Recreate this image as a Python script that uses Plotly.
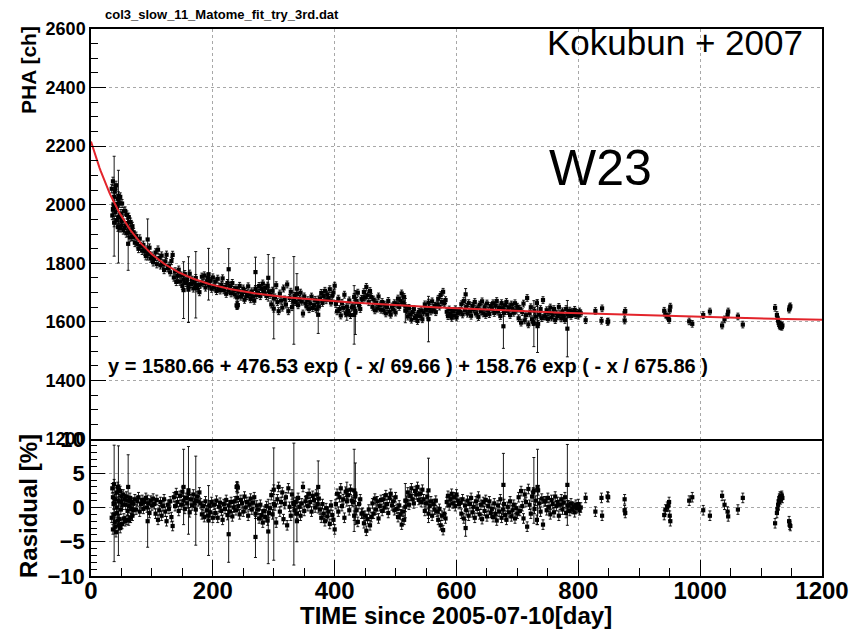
import numpy as np
import plotly.graph_objects as go

# ---- fit result: y = p0 + a1*exp(-x/t1) + a2*exp(-x/t2) ----
P0, A1, T1, A2, T2 = 1580.66, 476.53, 69.66, 158.76, 675.86

# ---- measurements: day since 2005-07-10 and residual (fit - data)/fit [%] ----
days = [
    34, 35, 36, 37, 38, 39, 40, 41, 42, 43, 44, 45, 46, 47, 48, 49, 50, 51, 52, 53,
    36, 38, 40, 42, 44, 46, 48, 50,
    54, 55, 56, 57, 58, 59, 60, 61, 62, 63, 64, 65, 66, 67, 68, 69, 70,
    72, 74, 76, 78, 80, 82, 84, 86, 88, 90, 92, 94, 96, 98, 100, 102,
    104, 106, 108, 110, 112, 114, 116, 118, 120, 122, 124, 126, 128, 130, 132, 134,
    136, 138, 140, 142, 144, 146, 148, 150, 152, 154, 156, 158, 160, 162, 164, 166, 168, 170, 172, 174, 176, 178,
    180, 182, 184, 186, 188, 190, 192, 194, 196, 198, 200,
    202, 204, 206, 208, 210, 212, 214, 216, 218, 220, 222, 224, 226, 228, 230, 232, 234,
    236, 238, 240, 242, 244, 246, 248, 250, 252, 254, 256, 258, 260, 262, 264, 266, 268, 270, 272,
    239, 240, 241,
    274, 276, 278, 280, 282, 284, 286, 288, 290, 292, 294,
    296, 298, 300, 302, 304, 306, 308, 310, 312, 314, 316, 318, 320, 322, 324, 326, 328, 330, 332, 334,
    336, 338, 340, 342, 344, 346, 348, 350, 352,
    354, 356, 358, 360, 362, 364, 366, 368, 370, 372, 374,
    376, 378, 380, 382, 384, 386, 388, 390, 392, 394, 396, 398, 400,
    402, 404, 406, 408, 410, 412, 414, 416, 418, 420, 422, 424, 426, 428,
    430, 432, 434, 436, 438, 440, 442, 444,
    446, 448, 450, 452, 454, 456, 458, 460,
    462, 464, 466, 468, 470, 472, 474, 476, 478,
    480, 482, 484, 486, 488, 490, 492, 494, 496, 498, 500,
    502, 504, 506, 508, 510, 512, 514, 516,
    518, 520, 522, 524, 526, 528, 530, 532, 534, 536, 538, 540, 542, 544,
    546, 548, 550, 552, 554, 556, 558, 560, 562, 564, 566,
    568, 570, 572, 574, 576, 578, 580, 582,
    584, 586, 588, 590, 592, 594, 596, 598, 600, 602, 604,
    606, 608, 610, 612, 614, 616, 618, 620, 622, 624, 626, 628, 630, 632, 634, 636, 638, 640, 642, 644,
    646, 648, 650, 652, 654, 656,
    658, 660, 662, 664, 666, 668, 670, 672, 674, 676, 678, 680, 682, 684, 686, 688, 690, 692, 694, 696, 698, 700,
    702, 704, 706, 708, 710, 712, 714, 716, 718, 720, 722, 724, 726, 728, 730, 732, 734, 736, 738, 740, 742, 744,
    746, 748, 750, 752, 754, 756, 758, 760, 762, 764, 766, 768, 770, 772, 774, 776, 778, 780, 782,
    784, 786, 788, 790, 792, 794, 796, 798, 800, 802, 804,
    812, 828, 838, 839, 848, 849, 876, 876, 877,
    941, 943, 946, 948, 949, 950, 951, 982, 987, 1005, 1016, 1036, 1040, 1045, 1046, 1062, 1070,
    1123, 1126, 1127, 1128, 1129, 1130, 1131, 1132, 1133, 1134, 1135, 1146, 1147, 1148,
]
resid = [
    -1.5, 2.8, -3.2, 0.5, 3.4, -2.1, 1.2, -3.6, 2.2, -0.8, 3.0, -2.6, 0.9, -1.7, 2.4, -0.3, 1.6, -2.4, 0.4, 1.9,
    1.5, -1.0, -2.8, 0.0, -1.9, 2.6, -3.0, 0.8,
    -1.6, 1.2, -2.0, 0.4, 1.6, -1.8, -0.5, 1.0, -1.9, 0.2, 1.4, -1.5, -0.2, 0.8, -1.2, 0.6, -0.4,
    1.2, -0.3, 0.9, 1.5, -0.6, 0.5, 1.1, -0.2, 0.8, 1.4, 0.0, 0.6, -0.8, 1.0, 0.3, 1.3,
    0.5, -0.9, 1.1, -1.8, -0.4, 0.8, -1.2, 0.2, 1.2, -0.6, -2.0, 0.4, -0.2, 0.9, -1.4, -2.7,
    1.5, 0.2, 2.1, 0.8, -0.5, 1.7, 0.4, 2.3, 1.0, -0.2, 1.4, 0.6, 2.0, -0.7, 1.2, 0.3, 1.9, 0.7, -0.3, 1.6, 0.9, 2.2,
    0.6, -1.0, 0.2, -1.4, 0.9, -0.4, -1.2, 0.3, -0.7, 0.8, -1.5,
    0.4, -0.8, 1.0, -1.5, 0.1, 0.7, -0.5, -1.8, 0.5, -0.2, 1.1, -1.1, 0.3, -0.6, 0.8, -1.3, 0.0,
    0.9, -0.4, 1.4, 0.2, -1.0, 1.1, 0.6, -0.6, 1.6, 0.0, 0.8, -1.2, 0.4, 1.3, -0.3, 0.7, 1.5, -0.9, 0.3,
    3.0, 3.1, 2.9,
    -0.3, -1.6, 0.4, -1.1, -2.2, -0.5, -1.4, 0.2, -1.9, -0.8, -0.1,
    1.8, -1.0, 2.6, 0.3, -2.2, 1.2, 3.0, -0.6, 0.8, 2.2, -1.7, 0.5, 1.5, -2.6, 2.8, 0.1, -1.2, 1.9, 0.7, -0.4,
    0.8, -0.9, 1.4, 0.1, -1.2, 0.6, 3.0, -0.5, 0.9,
    1.5, 0.2, 2.0, 0.8, -0.6, 1.7, 1.1, 0.0, 1.9, 0.5, 1.3,
    -0.3, -1.5, 0.5, -0.9, -2.0, -0.1, -1.3, -0.6, -2.4, 0.3, -1.1, -1.8, -3.2,
    0.5, 2.0, -0.6, 1.5, 2.8, 0.2, 1.2, -1.5, 2.3, 0.9, 1.8, -0.4, 2.6, 1.0,
    0.8, -1.2, 1.6, -0.4, -2.1, 0.5, 1.2, -0.9,
    -0.8, -2.3, -1.2, -3.4, -1.7, -0.3, -2.6, -1.4,
    0.6, -0.9, 1.3, -0.3, 0.9, -1.6, 0.2, 1.1, -0.5,
    1.2, 0.0, 1.8, 0.5, -0.8, 1.4, 2.0, 0.3, 0.9, -0.4, 1.5,
    -0.2, -1.4, 0.3, -1.0, -2.5, -0.6, -1.8, 0.1,
    1.0, 2.2, 0.4, 1.7, 2.8, 1.2, 0.6, 2.4, 1.9, 3.0, 1.1, 2.0, 0.8, 2.6,
    1.2, -0.5, 0.6, 1.6, -0.9, 0.2, 0.9, -1.2, 0.5, -0.3, 1.0,
    -0.6, -1.8, -0.2, -2.6, -1.2, -3.3, -0.9, -1.6,
    0.8, 1.7, 0.3, 1.2, 2.0, 0.6, 1.5, 0.2, 1.9, 1.0, 0.5,
    0.7, -0.9, 1.2, -1.6, 0.3, -0.4, 1.0, -1.2, 0.5, 1.4, -0.7, 0.1, -1.5, 0.9, -0.2, 1.6, -1.0, 0.4, -1.7, 0.8,
    -0.5, 1.1, -1.3, 0.2, 0.9, -0.8,
    -0.2, -1.4, 0.6, -0.9, -1.9, 0.3, -0.6, 1.2, -1.5, -0.3, 0.5, -1.1, -1.8, 0.1, -0.7, 0.9, -1.3, -0.4, 0.4, -1.6, -0.1, -0.9,
    1.5, -0.5, 2.4, 0.2, -1.6, 1.9, 0.8, -2.8, 2.7, 0.4, -0.9, 1.6, 2.2, -0.2, 1.0, -1.8, 2.5, 0.6, -0.6, 1.3, -2.5, 0.9,
    0.9, -0.4, 1.4, 0.1, -1.0, 1.1, 0.5, -0.7, 1.6, 0.2, 0.8, -1.2, 0.4, 1.2, -0.3, 0.7, 1.5, -0.8, 0.3,
    0.3, -0.5, 0.6, -0.2, 0.1, -0.7, 0.4, -0.1, 0.5, -0.4, 0.0,
    1.4, -0.6, 1.4, -1.2, 1.6, 1.5, 1.2, -0.4, -0.8,
    -1.1, -0.3, 0.1, 0.3, 0.8, -1.2, -2.0, 1.0, 1.5, -0.4, -1.2, 1.7, 0.4, -0.6, -1.3, -0.3, 1.4,
    -2.3, -0.8, -0.2, 0.4, 0.9, 1.3, 1.6, 1.2, 1.5, 1.7, 1.4, -2.0, -2.5, -2.7,
]
# typical statistical error of a single measurement [%]
ERR_TYPICAL = 0.7

# measurements with large errors: day, residual [%], error [%]
big_days = [38, 45, 61, 93, 152, 160, 172, 193, 226, 270, 291, 300, 333, 338,
            373, 420, 432, 434, 516, 554, 615, 677, 727, 733, 782]
big_resid = [0.6, 1.0, 3.0, -2.0, 3.0, 2.5, 1.0, -1.9, -3.9, -4.3, -3.5, 0.5, 0.5, -2.0,
             3.0, 2.5, 2.5, 2.0, 1.0, 2.5, -3.0, 3.3, 2.5, 3.0, 3.3]
big_err = [8.5, 8.0, 4.7, 3.8, 5.5, 6.4, 6.5, 5.1, 4.1, 3.0, 4.7, 8.2, 8.9, 3.0,
           3.8, 1.2, 6.0, 4.5, 2.5, 4.7, 1.2, 4.6, 4.8, 5.5, 5.9]


def model(d):
    d = np.asarray(d, dtype=float)
    return P0 + A1 * np.exp(-d / T1) + A2 * np.exp(-d / T2)


all_days = np.array(days + big_days, dtype=float)
all_res = np.array(resid + big_resid, dtype=float)
all_err = np.array([ERR_TYPICAL] * len(days) + big_err, dtype=float)

fit_at = model(all_days)
pha = fit_at * (1.0 - all_res / 100.0)
pha_err = fit_at * all_err / 100.0

xf = np.linspace(0, 1200, 601)
yf = model(xf)

# ---- page geometry ----
W, H = 867, 632
ML, MR, MT, MB = 91, 45, 29, 56
PW, PH = W - ML - MR, H - MT - MB
SPLIT = (H - MB - 439) / PH


def fx(px):
    return (px - ML) / PW


def fy(py):
    return (H - MB - py) / PH


FONT = "Liberation Sans, Arial, Helvetica, sans-serif"
GRID = "#a8a8a8"

marker = dict(symbol="square", size=4.2, color="black")

fig = go.Figure()
fig.add_trace(go.Scatter(
    x=all_days, y=pha, xaxis="x2", yaxis="y2", mode="markers", marker=marker,
    error_y=dict(type="data", array=pha_err, color="black", thickness=0.9, width=1.5),
    hoverinfo="skip"))
fig.add_trace(go.Scatter(
    x=xf, y=yf, xaxis="x2", yaxis="y2", mode="lines",
    line=dict(color="#e3242b", width=2), hoverinfo="skip"))
fig.add_trace(go.Scatter(
    x=all_days, y=all_res, xaxis="x", yaxis="y", mode="markers", marker=marker,
    error_y=dict(type="data", array=all_err, color="black", thickness=0.9, width=1.5),
    hoverinfo="skip"))

axis_common = dict(
    showline=True, linecolor="black", linewidth=1.5,
    showgrid=True, gridcolor=GRID, griddash="dot", gridwidth=1,
    zeroline=False, tickcolor="black", tickwidth=1.2,
)

fig.update_layout(
    width=W, height=H,
    margin=dict(l=ML, r=MR, t=MT, b=MB),
    paper_bgcolor="white", plot_bgcolor="white",
    showlegend=False,
    font=dict(family=FONT, color="black"),
    xaxis=dict(
        domain=[0, 1], anchor="y", range=[0, 1200], dtick=200, tick0=0,
        mirror=False, ticks="inside", ticklen=16, ticklabelstandoff=-8,
        minor=dict(dtick=50, ticklen=8, ticks="inside", tickcolor="black", showgrid=False),
        tickfont=dict(family=FONT, size=24, weight="bold"),
        **axis_common),
    xaxis2=dict(
        domain=[0, 1], anchor="y2", matches="x", range=[0, 1200], dtick=200,
        mirror=True, showticklabels=False, ticks="",
        **axis_common),
    yaxis=dict(
        domain=[0, SPLIT], anchor="x", range=[-10, 10], dtick=5, tick0=0,
        mirror=True, ticks="inside", ticklen=14,
        minor=dict(dtick=1, ticklen=6, ticks="inside", tickcolor="black", showgrid=False),
        tickfont=dict(family=FONT, size=22, weight="bold"),
        **axis_common),
    yaxis2=dict(
        domain=[SPLIT, 1], anchor="x2", range=[1200, 2600], dtick=200, tick0=0,
        mirror=True, ticks="inside", ticklen=15,
        minor=dict(dtick=50, ticklen=7, ticks="inside", tickcolor="black", showgrid=False),
        tickfont=dict(family=FONT, size=18, weight="bold"),
        **axis_common),
)

ann = [
    dict(text="col3_slow_11_Matome_fit_try_3rd.dat", x=fx(103), y=fy(14),
         xanchor="left", yanchor="middle", font=dict(size=13, weight="bold")),
    dict(text="Kokubun + 2007", x=fx(545), y=fy(42),
         xanchor="left", yanchor="middle", font=dict(size=35)),
    dict(text="W23", x=fx(547), y=fy(168),
         xanchor="left", yanchor="middle", font=dict(size=50)),
    dict(text="y = 1580.66 + 476.53 exp ( - x/ 69.66 ) + 158.76 exp ( - x / 675.86 )",
         x=fx(106), y=fy(366), xanchor="left", yanchor="middle",
         font=dict(size=20, weight="bold")),
    dict(text="PHA [ch]", x=fx(28), y=fy(70), textangle=-90,
         xanchor="center", yanchor="middle", font=dict(size=21, weight="bold")),
    dict(text="Rasidual [%]", x=fx(28), y=fy(506), textangle=-90,
         xanchor="center", yanchor="middle", font=dict(size=24, weight="bold")),
    dict(text="TIME since 2005-07-10[day]", x=fx(456), y=fy(615),
         xanchor="center", yanchor="middle", font=dict(size=24, weight="bold")),
]
for a in ann:
    a.update(xref="paper", yref="paper", showarrow=False)
    a["font"] = dict(family=FONT, color="black", **a["font"])
fig.update_layout(annotations=ann)

fig.write_html("out.html")
